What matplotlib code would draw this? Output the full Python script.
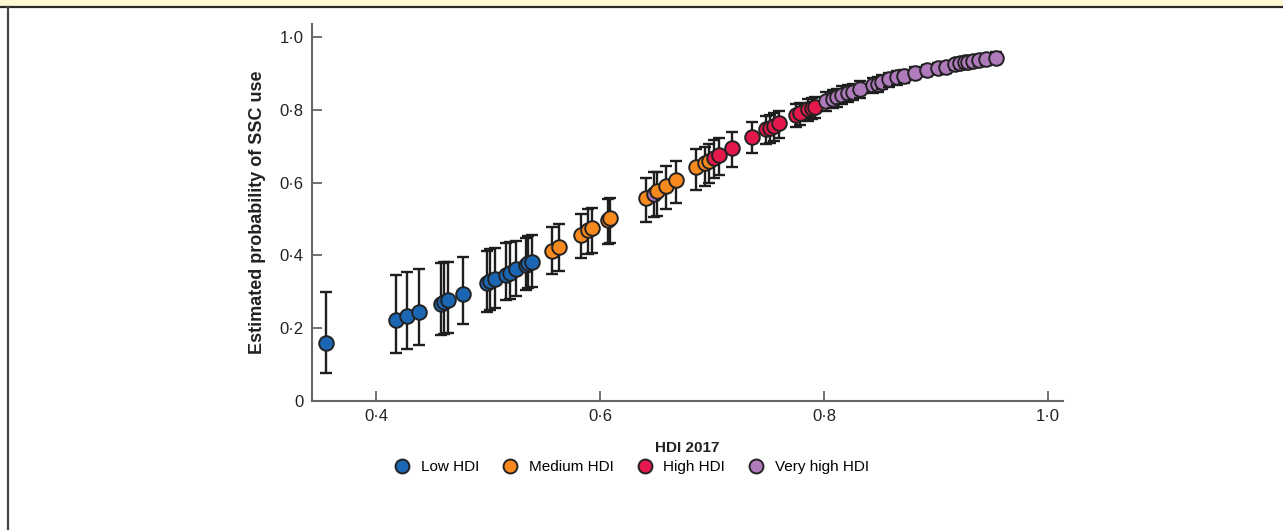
import matplotlib
matplotlib.use("Agg")
import matplotlib.pyplot as plt
from matplotlib.lines import Line2D
from matplotlib.patches import Rectangle

plt.rcParams['font.family'] = ['Liberation Sans', 'DejaVu Sans']

# ---------------- data ----------------
groups = ["Low HDI", "Medium HDI", "High HDI", "Very high HDI"]
colors = ["#1c67b4", "#f68a1f", "#e5184b", "#b07bbd"]

low_x = [0.355, 0.418, 0.428, 0.438, 0.458, 0.461, 0.464, 0.478, 0.499, 0.502, 0.506,
         0.516, 0.520, 0.525, 0.534, 0.536, 0.539]
low_y = [0.159, 0.222, 0.233, 0.245, 0.267, 0.272, 0.277, 0.295, 0.323, 0.329, 0.334,
         0.347, 0.352, 0.362, 0.374, 0.378, 0.383]
low_lo = [0.076, 0.133, 0.143, 0.155, 0.181, 0.185, 0.188, 0.212, 0.245, 0.250, 0.255,
          0.277, 0.280, 0.289, 0.305, 0.310, 0.314]
low_hi = [0.299, 0.347, 0.354, 0.362, 0.380, 0.382, 0.383, 0.395, 0.413, 0.418, 0.420,
          0.433, 0.436, 0.440, 0.449, 0.453, 0.455]

med_x = [0.557, 0.563, 0.583, 0.589, 0.593, 0.607, 0.609, 0.641, 0.651, 0.659, 0.668,
         0.686, 0.694, 0.697]
med_y = [0.413, 0.424, 0.457, 0.470, 0.476, 0.497, 0.503, 0.557, 0.577, 0.591, 0.607,
         0.642, 0.653, 0.660]
med_lo = [0.348, 0.358, 0.394, 0.403, 0.406, 0.432, 0.435, 0.493, 0.508, 0.527, 0.544,
          0.580, 0.590, 0.598]
med_hi = [0.477, 0.485, 0.515, 0.528, 0.531, 0.555, 0.557, 0.613, 0.630, 0.645, 0.659,
          0.691, 0.698, 0.705]

high_x = [0.702, 0.706, 0.718, 0.736, 0.748, 0.752, 0.755, 0.760, 0.775, 0.779, 0.786,
          0.789, 0.792]
high_y = [0.668, 0.676, 0.694, 0.726, 0.746, 0.750, 0.755, 0.763, 0.786, 0.791, 0.801,
          0.805, 0.809]
high_lo = [0.612, 0.621, 0.644, 0.681, 0.705, 0.710, 0.714, 0.722, 0.752, 0.757, 0.770,
           0.774, 0.778]
high_hi = [0.716, 0.723, 0.738, 0.766, 0.782, 0.786, 0.790, 0.797, 0.815, 0.820, 0.829,
           0.832, 0.835]

vhigh_x = [0.648, 0.802, 0.808, 0.812, 0.816, 0.821, 0.826, 0.832, 0.844, 0.848, 0.852,
           0.858, 0.865, 0.871, 0.881, 0.892, 0.902, 0.909, 0.917, 0.921, 0.926, 0.929,
           0.933, 0.938, 0.945, 0.954]
vhigh_y = [0.569, 0.824, 0.830, 0.834, 0.841, 0.847, 0.850, 0.857, 0.868, 0.872, 0.877,
           0.884, 0.889, 0.893, 0.902, 0.909, 0.914, 0.918, 0.925, 0.928, 0.930, 0.931,
           0.933, 0.936, 0.939, 0.943]
vhigh_lo = [0.505, 0.797, 0.804, 0.808, 0.815, 0.822, 0.826, 0.833, 0.846, 0.850, 0.856,
            0.863, 0.869, 0.874, 0.884, 0.892, 0.897, 0.902, 0.909, 0.912, 0.914, 0.916,
            0.918, 0.921, 0.924, 0.925]
vhigh_hi = [0.628, 0.850, 0.855, 0.858, 0.864, 0.869, 0.872, 0.878, 0.888, 0.891, 0.896,
            0.902, 0.906, 0.910, 0.918, 0.924, 0.929, 0.932, 0.938, 0.941, 0.943, 0.944,
            0.946, 0.949, 0.952, 0.958]

x_ticks = [0.4, 0.6, 0.8, 1.0]
x_ticklabels = ["0·4", "0·6", "0·8", "1·0"]
y_ticks = [0.0, 0.2, 0.4, 0.6, 0.8, 1.0]
y_ticklabels = ["0", "0·2", "0·4", "0·6", "0·8", "1·0"]

# ---------------- figure ----------------
W, H = 1283, 530
fig = plt.figure(figsize=(W / 100, H / 100), dpi=100)

# frame decoration: yellow band at top, dark rule, left rule
fig.add_artist(Rectangle((0, 1 - 6 / H), 1, 6 / H, transform=fig.transFigure,
                         facecolor="#fdf7d3", edgecolor="none"))
fig.add_artist(Line2D([0, 1], [1 - 7 / H, 1 - 7 / H], transform=fig.transFigure,
                      color="#2b2b2b", lw=1.6))
fig.add_artist(Line2D([8 / W, 8 / W], [0, 1 - 7 / H], transform=fig.transFigure,
                      color="#444444", lw=1.6))

ax = fig.add_axes([312 / W, 1 - 401 / H, 751 / W, 377 / H])

series = [(low_x, low_y, low_lo, low_hi, colors[0]),
          (med_x, med_y, med_lo, med_hi, colors[1]),
          (high_x, high_y, high_lo, high_hi, colors[2]),
          (vhigh_x, vhigh_y, vhigh_lo, vhigh_hi, colors[3])]

pts = []
for xs, ys, los, his, c in series:
    for x, y, lo, hi in zip(xs, ys, los, his):
        pts.append((x, y, lo, hi, c))
pts.sort(key=lambda p: p[0])

z = 3
for x, y, lo, hi, c in pts:
    ax.errorbar([x], [y], yerr=[[y - lo], [hi - y]], fmt="none", ecolor="#1e1e1e",
                elinewidth=1.7, capsize=4, capthick=1.7, zorder=z)
    ax.plot([x], [y], "o", ms=10.5, mfc=c, mec="#222222", mew=1.4, zorder=z + 1)
    z += 2

ax.set_xlim(0.3429, 1.0134)
ax.set_ylim(0, 1.0357)
ax.set_xticks(x_ticks)
ax.set_xticklabels(x_ticklabels)
ax.set_yticks(y_ticks)
ax.set_yticklabels(y_ticklabels)

for s in ["top", "right"]:
    ax.spines[s].set_visible(False)
for s in ["left", "bottom"]:
    ax.spines[s].set_color("#666666")
    ax.spines[s].set_linewidth(1.5)

ax.tick_params(axis="both", direction="in", length=7, width=1.3, color="#666666",
               labelsize=12, labelcolor="#222222", pad=6)

ax.set_xlabel("HDI 2017", fontsize=11, fontweight="bold", color="#222222", labelpad=12)
ax.set_ylabel("Estimated probability of SSC use", fontsize=13, fontweight="bold",
              color="#222222", labelpad=10)

handles = [Line2D([], [], ls="none", marker="o", ms=10, mfc=c, mec="#222222", mew=1.4)
           for c in colors]
fig.legend(handles, groups, loc="center", bbox_to_anchor=(631 / W, 1 - 467 / H),
           ncol=4, frameon=False, fontsize=11, handletextpad=0.6, columnspacing=1.45,
           handlelength=1.2)

fig.savefig("out.png", dpi=100)
